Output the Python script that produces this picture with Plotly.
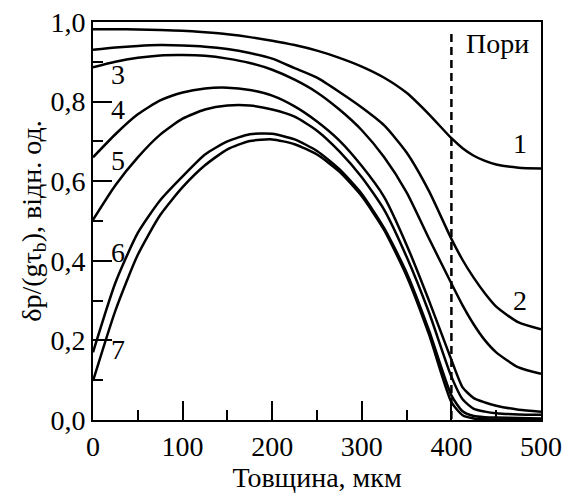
import plotly.graph_objects as go

x_um = [0, 25, 50, 75, 100, 125, 150, 175, 200, 225, 250, 275, 300, 325, 350, 375, 400, 412.5, 425, 437.5, 450, 475, 500]

curve_1 = [0.982, 0.982, 0.981, 0.980, 0.978, 0.974, 0.969, 0.962, 0.953, 0.942, 0.928, 0.910, 0.888, 0.860, 0.822, 0.768, 0.708, 0.683, 0.664, 0.651, 0.642, 0.634, 0.632]
curve_2 = [0.930, 0.936, 0.940, 0.942, 0.941, 0.938, 0.932, 0.922, 0.908, 0.884, 0.860, 0.824, 0.785, 0.740, 0.672, 0.575, 0.455, 0.402, 0.357, 0.318, 0.285, 0.245, 0.228]
curve_3 = [0.886, 0.900, 0.910, 0.916, 0.917, 0.915, 0.908, 0.897, 0.880, 0.855, 0.823, 0.780, 0.728, 0.660, 0.572, 0.456, 0.343, 0.288, 0.240, 0.200, 0.170, 0.132, 0.116]
curve_4 = [0.660, 0.718, 0.768, 0.803, 0.823, 0.833, 0.835, 0.829, 0.815, 0.788, 0.750, 0.702, 0.638, 0.560, 0.440, 0.300, 0.151, 0.082, 0.055, 0.044, 0.036, 0.026, 0.021]
curve_5 = [0.503, 0.590, 0.660, 0.717, 0.757, 0.780, 0.790, 0.790, 0.780, 0.762, 0.727, 0.675, 0.610, 0.528, 0.410, 0.270, 0.109, 0.052, 0.028, 0.021, 0.017, 0.014, 0.013]
curve_6 = [0.170, 0.345, 0.470, 0.552, 0.612, 0.667, 0.700, 0.718, 0.719, 0.705, 0.676, 0.630, 0.568, 0.482, 0.370, 0.225, 0.062, 0.022, 0.010, 0.007, 0.006, 0.005, 0.004]
curve_7 = [0.098, 0.275, 0.415, 0.515, 0.585, 0.640, 0.680, 0.701, 0.705, 0.693, 0.667, 0.624, 0.562, 0.477, 0.362, 0.215, 0.045, 0.012, 0.004, 0.002, 0.001, 0.001, 0.000]

curves = [curve_1, curve_2, curve_3, curve_4, curve_5, curve_6, curve_7]

pore_x = [400, 400]
pore_y = [0.97, 0.0]

label_text = ["1", "2", "3", "4", "5", "6", "7", "Пори"]
label_x = [477, 477, 28, 28, 28, 28, 28, 452]
label_y = [0.695, 0.30, 0.867, 0.779, 0.653, 0.422, 0.176, 0.947]

FONT = "Liberation Serif"
FS = 28

fig = go.Figure()
for ys in curves:
    fig.add_trace(go.Scatter(x=x_um, y=ys, mode="lines",
                             line=dict(color="black", width=2.5, shape="spline", smoothing=0.6),
                             showlegend=False, hoverinfo="skip"))

fig.add_trace(go.Scatter(x=pore_x, y=pore_y, mode="lines",
                         line=dict(color="black", width=2.5, dash="8px,5px"),
                         showlegend=False, hoverinfo="skip"))

for t, xx, yy in zip(label_text, label_x, label_y):
    fig.add_annotation(x=xx, y=yy, text=t, showarrow=False,
                       font=dict(family=FONT, size=FS, color="black"),
                       xanchor="center", yanchor="middle")

fig.update_layout(
    width=565, height=494,
    margin=dict(l=93, r=24, t=22, b=74, autoexpand=False),
    paper_bgcolor="white", plot_bgcolor="white",
    separators=", ",
    font=dict(family=FONT, size=FS, color="black"),
)

fig.update_xaxes(
    range=[0, 500], showgrid=False, zeroline=False, automargin=False,
    showline=True, linecolor="black", linewidth=2, mirror=True,
    ticks="inside", ticklen=19, tickwidth=2, tickcolor="black",
    tick0=0, dtick=100,
    minor=dict(ticks="inside", ticklen=10, tickwidth=2, tickcolor="black", dtick=50, showgrid=False),
    tickfont=dict(family=FONT, size=FS, color="black"),
    title=dict(text="Товщина, мкм", font=dict(family=FONT, size=FS, color="black"), standoff=2),
)

fig.update_yaxes(
    range=[0, 1.0], showgrid=False, zeroline=False, automargin=False,
    showline=True, linecolor="black", linewidth=2, mirror=True,
    ticks="inside", ticklen=19, tickwidth=2, tickcolor="black",
    tick0=0, dtick=0.2, tickformat=".1f",
    minor=dict(ticks="inside", ticklen=10, tickwidth=2, tickcolor="black", dtick=0.1, showgrid=False),
    tickfont=dict(family=FONT, size=FS, color="black"),
    title=dict(text="δp/(gτ<sub>b</sub>), відн. од.", font=dict(family=FONT, size=FS, color="black"), standoff=0),
)

fig.write_html("out.html", config={"displayModeBar": False},
               post_script="document.body.style.margin='0';")
